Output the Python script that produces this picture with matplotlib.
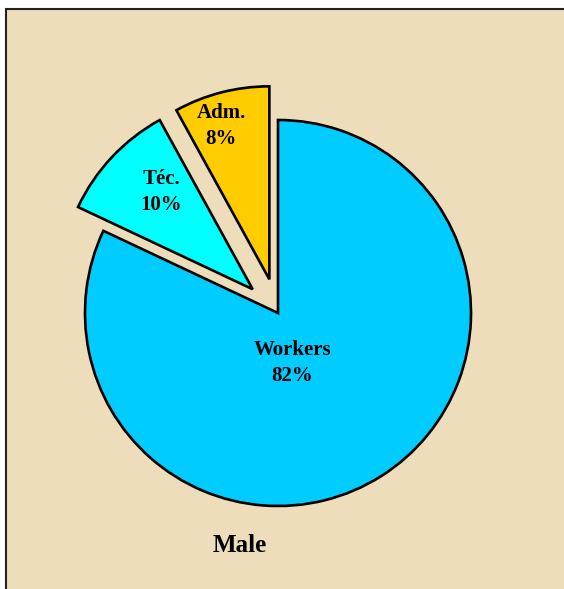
import matplotlib.pyplot as plt
from matplotlib.patches import Rectangle

categories = ["Workers", "Téc.", "Adm."]
shares = [82, 10, 8]
colors = ["#00CCFF", "#00FFFF", "#FFCC00"]
explode = [0, 0.18, 0.18]
title = "Male"

plt.rcParams['font.family'] = ['Liberation Serif', 'DejaVu Serif']

fig = plt.figure(figsize=(5.64, 5.89), dpi=100, facecolor="white")

# parchment panel with a dark frame on the top/left (cut off on right/bottom)
fig.patches.append(Rectangle((6 / 564, -0.05), 1.1, 1 + 0.05 - 9 / 589,
                             transform=fig.transFigure, facecolor="#EEDDBA",
                             edgecolor="#222222", linewidth=1.5, zorder=-10))

ax = fig.add_axes([0, 0, 1, 1])
ax.set_facecolor("none")
ax.axis("off")

wedges, texts = ax.pie(
    shares,
    labels=[f"{c}\n{s}%" for c, s in zip(categories, shares)],
    colors=colors,
    explode=explode,
    startangle=90,
    counterclock=False,
    radius=1,
    labeldistance=0.72,
    wedgeprops=dict(edgecolor="black", linewidth=1.9),
    textprops=dict(fontsize=15, fontweight="bold", ha="center", va="center",
                   linespacing=1.4),
)

# label spots as placed in the original (not on the mid-angle line)
texts[0].set_position((0.073, -0.26))
texts[1].set_position((-0.606, 0.627))
texts[2].set_position((-0.295, 0.969))

ax.set_aspect("equal")
ax.set_xlim(-278 / 193, (564 - 278) / 193)
ax.set_ylim(-(589 - 313) / 193, 313 / 193)

fig.text(240 / 564, 1 - 545 / 589, title, fontsize=18, fontweight="bold",
         ha="center", va="center")

fig.savefig("out.png", dpi=100)
